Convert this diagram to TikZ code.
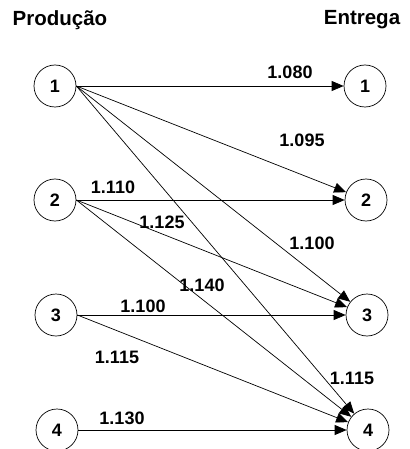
\documentclass[tikz,border=0pt]{standalone}
\usepackage{fontspec}
\setmainfont{Liberation Sans}
\usetikzlibrary{arrows.meta}
\begin{document}
\begin{tikzpicture}[x=1pt,y=-1pt,
  state/.style={circle,draw,line width=0.7pt,minimum size=42pt,inner sep=0pt,font=\bfseries\fontsize{18}{18}\selectfont},
  flow/.style={line width=0.7pt,-{Triangle[length=12pt,width=10pt]}},
  lab/.style={font=\bfseries\fontsize{18}{18}\selectfont,inner sep=0pt},
  head/.style={font=\bfseries\fontsize{20.5}{20.5}\selectfont,inner sep=0pt}]
\useasboundingbox (0,0) rectangle (409,449);
\node[head] (hp) at (60,20) {Produção};
\node[head] (he) at (362,20) {Entrega};
\node[state] (L1) at (55,86) {1};
\node[state] (L2) at (55,200) {2};
\node[state] (L3) at (56,315) {3};
\node[state] (L4) at (57,430) {4};
\node[state] (R1) at (365,86) {1};
\node[state] (R2) at (366,200) {2};
\node[state] (R3) at (367,315) {3};
\node[state] (R4) at (368,430) {4};
\draw[flow] (L1.east) -- (R1);
\draw[flow] (L1.east) -- (R2);
\draw[flow] (L1.east) -- (R3);
\draw[flow] (L1.east) -- (R4);
\draw[flow] (L2.east) -- (R2);
\draw[flow] (L2.east) -- (R3);
\draw[flow] (L2.east) -- (R4);
\draw[flow] (L3.east) -- (R3);
\draw[flow] (L3.east) -- (R4);
\draw[flow] (L4.east) -- (R4);
\node[lab] (a) at (290,72) {1.080};
\node[lab] (b) at (302,140) {1.095};
\node[lab] (c) at (113,187) {1.110};
\node[lab] (d) at (162,222) {1.125};
\node[lab] (e) at (312,243) {1.100};
\node[lab] (f) at (202,285) {1.140};
\node[lab] (g) at (143,306) {1.100};
\node[lab] (h) at (117,357) {1.115};
\node[lab] (i) at (352,378) {1.115};
\node[lab] (j) at (122,418) {1.130};
\end{tikzpicture}
\end{document}
